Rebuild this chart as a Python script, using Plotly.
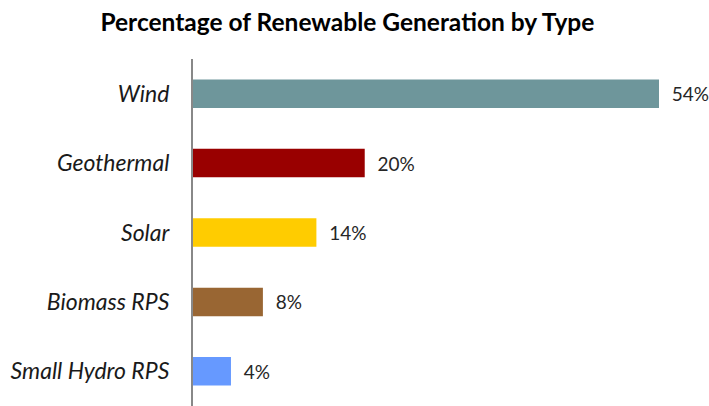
import plotly.graph_objects as go

categories = ["Wind", "Geothermal", "Solar", "Biomass RPS", "Small Hydro RPS"]
values = [54, 19.9, 14.3, 8.1, 4.4]
labels = ["54%", "20%", "14%", "8%", "4%"]
colors = ["#6E969B", "#990000", "#FFCC00", "#996633", "#6699FF"]

fig = go.Figure(go.Bar(
    x=values, y=categories, orientation="h",
    marker=dict(color=colors, line=dict(width=0)),
    text=["\u00a0\u00a0" + t for t in labels], textposition="outside", cliponaxis=False,
    textfont=dict(family="Lato", size=19, color="#262626"),
))

fig.update_layout(
    width=709, height=406,
    margin=dict(l=193, r=50, t=59, b=0),
    paper_bgcolor="white", plot_bgcolor="white",
    bargap=0.59,
    showlegend=False,
    title=dict(text="<b>Percentage of Renewable Generation by Type</b>",
               x=0.49, xanchor="center", y=0.945, yanchor="middle",
               font=dict(family="Lato", size=24.5, color="#000000")),
)
fig.update_xaxes(range=[0, 54], visible=False)
fig.update_yaxes(
    autorange="reversed", showline=True, linecolor="#888888", linewidth=2,
    showgrid=False, zeroline=False, ticks="", ticklabelstandoff=17,
    tickfont=dict(family="Lato", size=23, color="#1a1a1a", style="italic"),
)

fig.write_html("out.html")
